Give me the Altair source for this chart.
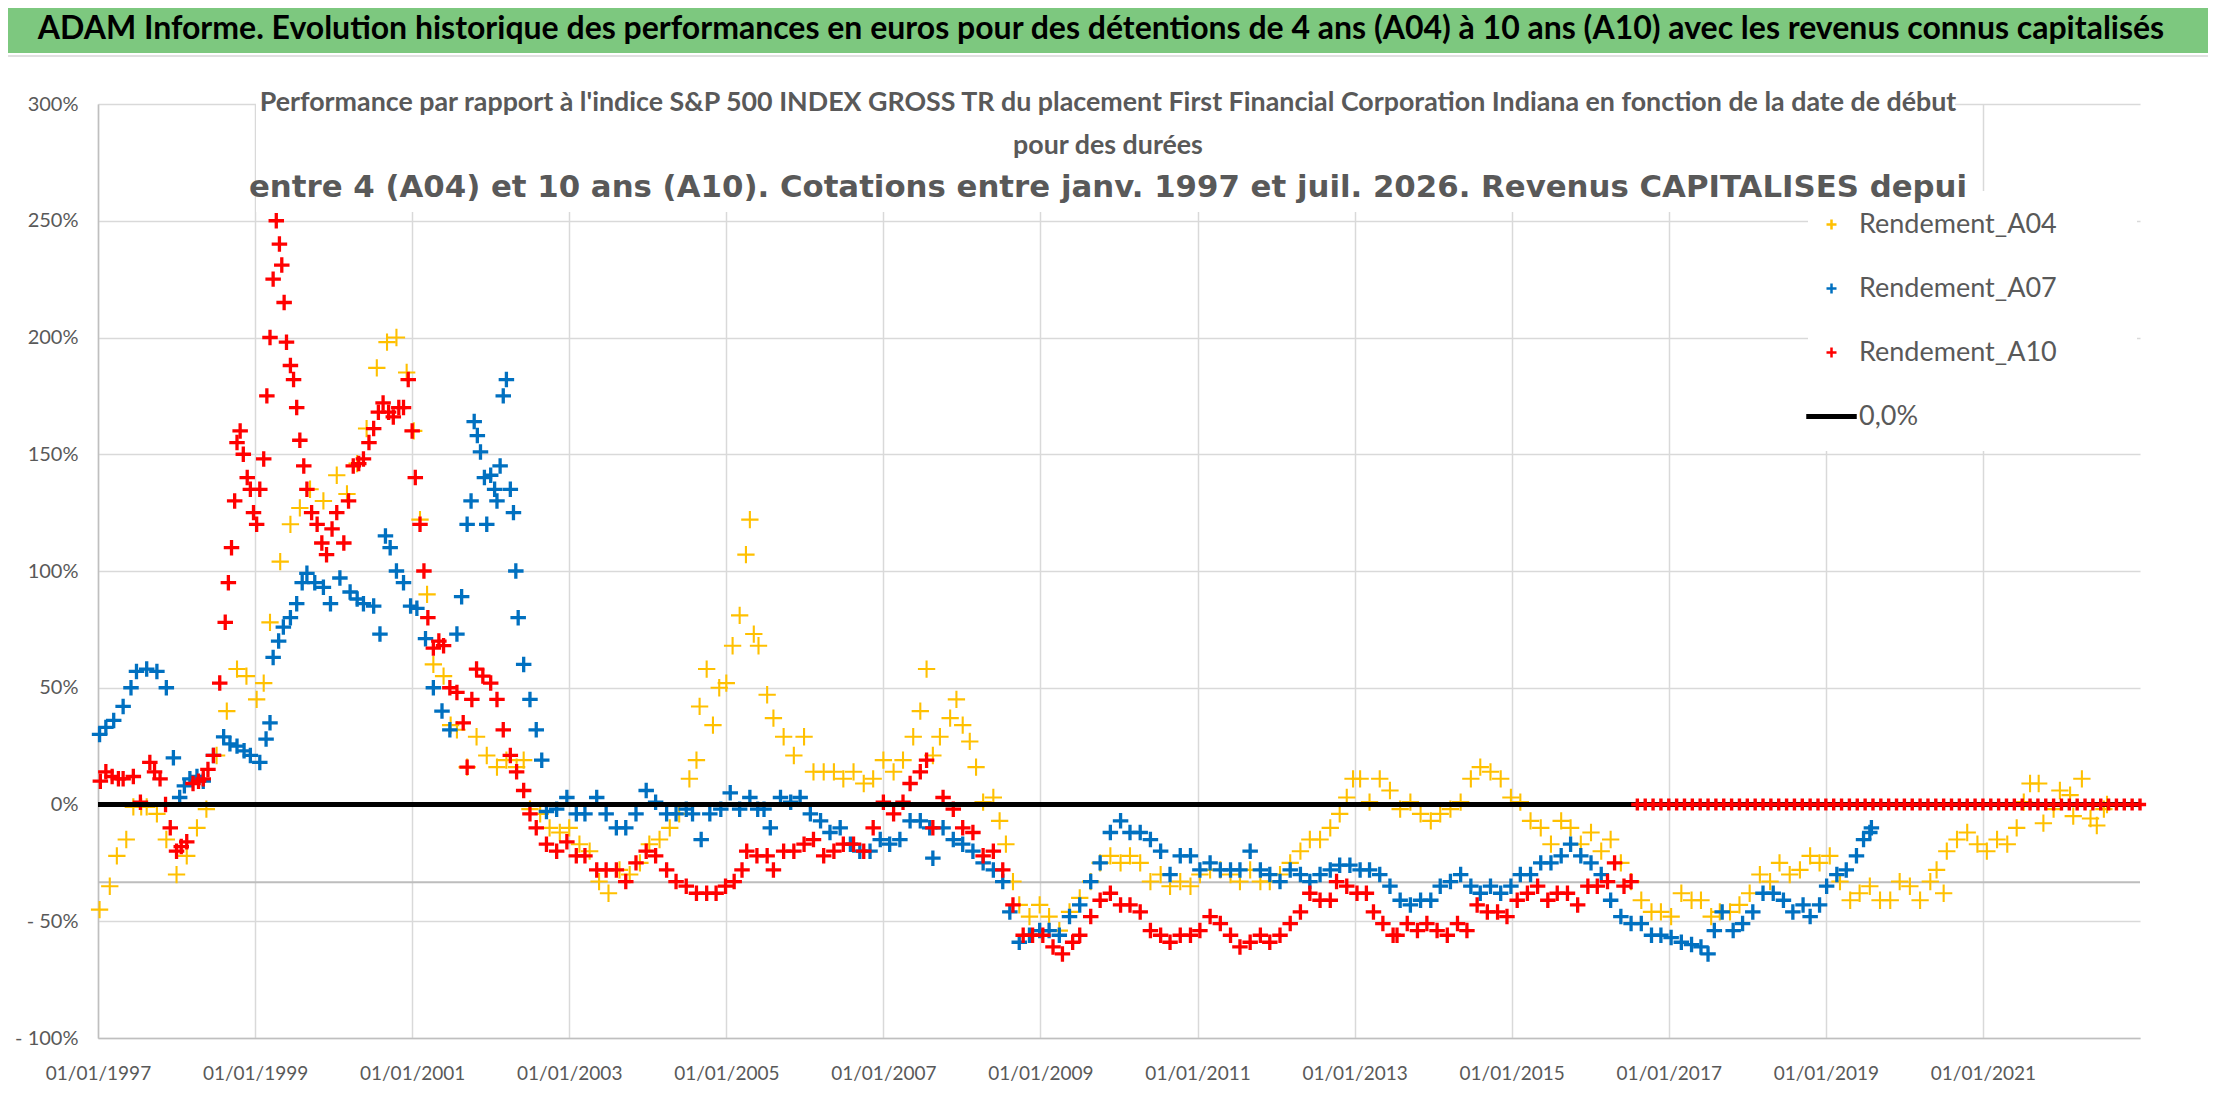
import altair as alt
import pandas as pd

# ---------------- data ----------------
series_names = ["Rendement_A04", "Rendement_A07", "Rendement_A10", "0,0%"]
series_colors = ["#FFC000", "#0070C0", "#FF0000", "#000000"]

a04_t = [1997.02, 1997.15, 1997.24, 1997.36, 1997.45, 1997.55, 1997.62, 1997.75, 1997.87, 1998.00,
         1998.13, 1998.26, 1998.38, 1998.51, 1998.64, 1998.77, 1998.89, 1999.02, 1999.11, 1999.19,
         1999.32, 1999.45, 1999.57, 1999.70, 1999.87, 2000.04, 2000.17, 2000.30, 2000.42, 2000.55,
         2000.68, 2000.80, 2000.93, 2001.02, 2001.10, 2001.19, 2001.27, 2001.40, 2001.49, 2001.57,
         2001.70, 2001.82, 2001.95, 2002.08, 2002.20, 2002.33, 2002.42, 2002.50, 2002.63, 2002.75,
         2002.88, 2003.00, 2003.13, 2003.26, 2003.38, 2003.50, 2003.64, 2003.77, 2003.90, 2004.02,
         2004.15, 2004.28, 2004.40, 2004.53, 2004.62, 2004.66, 2004.75, 2004.83, 2004.91, 2005.00,
         2005.08, 2005.17, 2005.25, 2005.30, 2005.35, 2005.41, 2005.52, 2005.60, 2005.73, 2005.86,
         2005.99, 2006.11, 2006.24, 2006.37, 2006.49, 2006.62, 2006.75, 2006.87, 2007.00, 2007.13,
         2007.25, 2007.38, 2007.47, 2007.55, 2007.63, 2007.72, 2007.85, 2007.93, 2008.01, 2008.10,
         2008.18, 2008.27, 2008.40, 2008.48, 2008.56, 2008.65, 2008.73, 2008.86, 2008.99, 2009.11,
         2009.24, 2009.37, 2009.50, 2009.64, 2009.76, 2009.89, 2010.02, 2010.14, 2010.27, 2010.40,
         2010.53, 2010.65, 2010.78, 2010.91, 2011.03, 2011.16, 2011.29, 2011.42, 2011.54, 2011.67,
         2011.80, 2011.92, 2012.05, 2012.18, 2012.31, 2012.43, 2012.56, 2012.69, 2012.81, 2012.90,
         2012.98, 2013.07, 2013.19, 2013.32, 2013.45, 2013.58, 2013.71, 2013.84, 2013.97, 2014.09,
         2014.22, 2014.35, 2014.48, 2014.60, 2014.73, 2014.86, 2014.99, 2015.11, 2015.24, 2015.37,
         2015.50, 2015.63, 2015.75, 2015.88, 2016.01, 2016.14, 2016.26, 2016.39, 2016.52, 2016.65,
         2016.78, 2016.90, 2017.03, 2017.16, 2017.29, 2017.41, 2017.54, 2017.65, 2017.78, 2017.90,
         2018.03, 2018.16, 2018.29, 2018.41, 2018.54, 2018.67, 2018.80, 2018.92, 2019.05, 2019.18,
         2019.31, 2019.43, 2019.56, 2019.69, 2019.82, 2019.94, 2020.07, 2020.20, 2020.33, 2020.41,
         2020.50, 2020.54, 2020.67, 2020.80, 2020.93, 2021.05, 2021.18, 2021.31, 2021.43, 2021.52,
         2021.60, 2021.71, 2021.77, 2021.90, 2021.98, 2022.11, 2022.15, 2022.26, 2022.37, 2022.45,
         2022.54, 2022.58]
a04_v = [-45, -35, -22, -15, -1, -1, -1, -4, -15, -30,
         -22, -10, -2, 21, 40, 58, 55, 45, 52, 78,
         104, 120, 127, 135, 130, 141, 133, 146, 161, 187,
         198, 200, 185, 160, 122, 90, 60, 55, 34, 32,
         16, 29, 21, 16, 19, 16, 19, -2, -4, -10,
         -12, -10, -17, -20, -33, -38, -28, -30, -25, -17,
         -15, -10, -4, 11, 19, 42, 58, 34, 50, 52,
         68, 81, 107, 122, 73, 68, 47, 37, 29, 21,
         29, 14, 14, 14, 11, 14, 9, 11, 19, 14,
         19, 29, 40, 58, 21, 29, 37, 45, 34, 27,
         16, 1, 3, -7, -17, -33, -43, -48, -43, -48,
         -54, -46, -40, -33, -25, -22, -25, -22, -25, -33,
         -30, -35, -33, -35, -30, -28, -28, -30, -33, -28,
         -33, -33, -30, -25, -20, -15, -15, -10, -4, 3,
         11, 11, 1, 11, 6, -2, 1, -4, -7, -4,
         -2, 1, 11, 16, 14, 11, 3, 1, -7, -10,
         -17, -7, -10, -17, -12, -20, -15, -25, -33, -41,
         -46, -46, -48, -38, -41, -41, -48, -46, -46, -43,
         -38, -30, -33, -25, -30, -28, -22, -25, -22, -33,
         -41, -38, -35, -41, -41, -33, -35, -41, -33, -28,
         -38, -20, -15, -12, -17, -20, -15, -17, -10, 1,
         9, 9, -8, -2, 6, 4, -5, 11, -6, -9,
         -2, 0]

a07_t = [1997.02, 1997.10, 1997.20, 1997.32, 1997.42, 1997.49, 1997.62, 1997.75, 1997.87, 1997.96,
         1998.04, 1998.10, 1998.17, 1998.26, 1998.34, 1998.47, 1998.60, 1998.68, 1998.77, 1998.86,
         1998.94, 1999.06, 1999.14, 1999.19, 1999.23, 1999.30, 1999.36, 1999.45, 1999.53, 1999.60,
         1999.66, 1999.76, 1999.87, 1999.96, 2000.08, 2000.21, 2000.30, 2000.38, 2000.51, 2000.59,
         2000.66, 2000.72, 2000.80, 2000.89, 2000.98, 2001.06, 2001.17, 2001.27, 2001.38, 2001.48,
         2001.57, 2001.63, 2001.70, 2001.75, 2001.79, 2001.83, 2001.87, 2001.92, 2001.95, 2002.00,
         2002.05, 2002.08, 2002.12, 2002.16, 2002.20, 2002.25, 2002.29, 2002.32, 2002.35, 2002.42,
         2002.50, 2002.58, 2002.65, 2002.71, 2002.84, 2002.97, 2003.09, 2003.20, 2003.35, 2003.47,
         2003.60, 2003.72, 2003.85, 2003.98, 2004.10, 2004.24, 2004.36, 2004.49, 2004.57, 2004.68,
         2004.79, 2004.93, 2005.05, 2005.17, 2005.30, 2005.40, 2005.48, 2005.56, 2005.69, 2005.82,
         2005.94, 2006.07, 2006.20, 2006.32, 2006.45, 2006.58, 2006.70, 2006.83, 2006.96, 2007.08,
         2007.21, 2007.34, 2007.47, 2007.59, 2007.63, 2007.76, 2007.89, 2008.01, 2008.14, 2008.27,
         2008.40, 2008.52, 2008.61, 2008.73, 2008.86, 2008.99, 2009.11, 2009.24, 2009.37, 2009.50,
         2009.64, 2009.76, 2009.89, 2010.02, 2010.14, 2010.27, 2010.40, 2010.53, 2010.65, 2010.78,
         2010.91, 2011.03, 2011.16, 2011.29, 2011.42, 2011.54, 2011.67, 2011.80, 2011.92, 2012.05,
         2012.18, 2012.31, 2012.43, 2012.56, 2012.69, 2012.81, 2012.94, 2013.07, 2013.19, 2013.32,
         2013.45, 2013.58, 2013.71, 2013.84, 2013.97, 2014.09, 2014.22, 2014.35, 2014.48, 2014.60,
         2014.73, 2014.86, 2014.99, 2015.11, 2015.24, 2015.37, 2015.50, 2015.63, 2015.75, 2015.88,
         2016.01, 2016.14, 2016.26, 2016.39, 2016.52, 2016.65, 2016.78, 2016.90, 2017.03, 2017.16,
         2017.29, 2017.41, 2017.50, 2017.58, 2017.68, 2017.82, 2017.94, 2018.07, 2018.20, 2018.33,
         2018.46, 2018.58, 2018.71, 2018.80, 2018.92, 2019.01, 2019.14, 2019.26, 2019.39, 2019.48,
         2019.56, 2019.58]
a07_v = [30, 33, 36, 42, 50, 57, 58, 57, 50, 20,
         3, 8, 11, 12, 10, 21, 29, 26, 25, 23,
         21, 18, 28, 35, 63, 70, 76, 80, 86, 95,
         99, 95, 93, 86, 97, 91, 88, 86, 85, 73,
         115, 110, 100, 95, 85, 84, 71, 50, 40, 32,
         73, 89, 120, 130, 164, 158, 151, 140, 120, 141,
         135, 130, 145, 175, 182, 135, 125, 100, 80, 60,
         45, 32, 19, -3, -2, 3, -4, -4, 3, -4,
         -10, -10, -4, 6, 1, -4, -4, -2, -4, -15,
         -4, -2, 5, -2, 3, -2, -2, -10, 3, 1,
         3, -4, -7, -12, -10, -17, -20, -20, -15, -17,
         -15, -7, -7, -10, -23, -10, -15, -17, -20, -25,
         -28, -33, -46, -59, -56, -54, -54, -56, -48, -43,
         -33, -25, -12, -7, -12, -12, -15, -20, -30, -22,
         -22, -28, -25, -28, -28, -28, -20, -28, -30, -33,
         -28, -30, -33, -30, -28, -26, -26, -28, -28, -30,
         -35, -41, -43, -41, -41, -35, -33, -30, -35, -38,
         -35, -38, -35, -30, -30, -25, -25, -22, -17, -22,
         -25, -30, -41, -48, -51, -51, -56, -56, -57, -59,
         -60, -61, -64, -54, -46, -54, -51, -46, -38, -38,
         -41, -46, -43, -48, -43, -35, -30, -28, -22, -15,
         -12, -10]

a10_t = [1997.03, 1997.10, 1997.18, 1997.26, 1997.32, 1997.45, 1997.54, 1997.66, 1997.72, 1997.79,
         1997.86, 1997.92, 1998.00, 1998.06, 1998.13, 1998.21, 1998.28, 1998.34, 1998.40, 1998.47,
         1998.55, 1998.62, 1998.66, 1998.70, 1998.74, 1998.77, 1998.81, 1998.85, 1998.90, 1998.94,
         1998.98, 1999.02, 1999.06, 1999.11, 1999.15, 1999.19, 1999.23, 1999.27, 1999.31, 1999.34,
         1999.37, 1999.40, 1999.45, 1999.49, 1999.53, 1999.57, 1999.62, 1999.66, 1999.72, 1999.79,
         1999.85, 1999.91, 1999.98, 2000.04, 2000.13, 2000.19, 2000.25, 2000.32, 2000.38, 2000.45,
         2000.51, 2000.57, 2000.63, 2000.70, 2000.76, 2000.83, 2000.89, 2000.95, 2001.00, 2001.04,
         2001.10, 2001.15, 2001.20, 2001.27, 2001.34, 2001.40, 2001.48, 2001.57, 2001.65, 2001.70,
         2001.76, 2001.82, 2001.90, 2002.00, 2002.08, 2002.16, 2002.25, 2002.33, 2002.42, 2002.50,
         2002.58, 2002.71, 2002.84, 2002.97, 2003.09, 2003.20, 2003.35, 2003.47, 2003.60, 2003.72,
         2003.85, 2003.98, 2004.10, 2004.24, 2004.36, 2004.49, 2004.62, 2004.75, 2004.87, 2004.99,
         2005.10, 2005.20, 2005.26, 2005.39, 2005.52, 2005.60, 2005.73, 2005.86, 2005.99, 2006.11,
         2006.24, 2006.37, 2006.49, 2006.62, 2006.75, 2006.87, 2007.00, 2007.13, 2007.25, 2007.34,
         2007.47, 2007.55, 2007.63, 2007.76, 2007.89, 2008.01, 2008.14, 2008.27, 2008.40, 2008.52,
         2008.65, 2008.78, 2008.90, 2009.03, 2009.16, 2009.28, 2009.41, 2009.50, 2009.64, 2009.76,
         2009.89, 2010.02, 2010.14, 2010.27, 2010.40, 2010.53, 2010.65, 2010.78, 2010.91, 2011.03,
         2011.16, 2011.29, 2011.42, 2011.54, 2011.67, 2011.80, 2011.92, 2012.05, 2012.18, 2012.31,
         2012.43, 2012.56, 2012.69, 2012.77, 2012.90, 2013.03, 2013.15, 2013.24, 2013.36, 2013.49,
         2013.54, 2013.67, 2013.80, 2013.92, 2014.05, 2014.18, 2014.31, 2014.43, 2014.56, 2014.69,
         2014.82, 2014.94, 2015.07, 2015.20, 2015.33, 2015.46, 2015.58, 2015.71, 2015.84, 2015.97,
         2016.09, 2016.22, 2016.31, 2016.43, 2016.52]
a10_v = [10, 14, 12, 11, 11, 12, 1, 18, 14, 11,
         0, -10, -20, -18, -16, 9, 10, 11, 15, 21,
         52, 78, 95, 110, 130, 155, 160, 150, 140, 135,
         125, 120, 135, 148, 175, 200, 225, 250, 240, 231,
         215, 198, 188, 182, 170, 156, 145, 135, 125, 120,
         112, 107, 118, 125, 112, 130, 145, 146, 148, 155,
         161, 168, 172, 168, 166, 170, 170, 182, 160, 140,
         120, 100, 80, 67, 70, 68, 50, 48, 35, 16,
         45, 58, 55, 52, 45, 32, 21, 14, 6, -4,
         -10, -17, -20, -16, -22, -22, -28, -28, -28, -33,
         -25, -20, -22, -28, -33, -35, -38, -38, -38, -35,
         -33, -28, -20, -22, -22, -28, -20, -20, -17, -15,
         -22, -20, -17, -17, -20, -10, 1, -4, 1, 9,
         14, 19, -10, 3, -2, -10, -12, -22, -20, -28,
         -43, -56, -56, -56, -61, -64, -59, -56, -48, -41,
         -38, -43, -43, -46, -54, -56, -59, -56, -56, -54,
         -48, -51, -56, -61, -59, -56, -59, -56, -51, -46,
         -38, -41, -41, -33, -35, -38, -38, -46, -51, -56,
         -56, -51, -54, -51, -54, -56, -51, -54, -43, -46,
         -46, -48, -41, -38, -35, -41, -38, -38, -43, -35,
         -35, -33, -25, -35, -33]

# A10 after mid-2016: values read at 0 %
a10_zero_t = [2016.6, 2016.7, 2016.8, 2016.9, 2017.0, 2017.1, 2017.2, 2017.3, 2017.4, 2017.5,
              2017.6, 2017.7, 2017.8, 2017.9, 2018.0, 2018.1, 2018.2, 2018.3, 2018.4, 2018.5,
              2018.6, 2018.7, 2018.8, 2018.9, 2019.0, 2019.1, 2019.2, 2019.3, 2019.4, 2019.5,
              2019.6, 2019.7, 2019.8, 2019.9, 2020.0, 2020.1, 2020.2, 2020.3, 2020.4, 2020.5,
              2020.6, 2020.7, 2020.8, 2020.9, 2021.0, 2021.1, 2021.2, 2021.3, 2021.4, 2021.5,
              2021.6, 2021.7, 2021.8, 2021.9, 2022.0, 2022.1, 2022.2, 2022.3, 2022.4, 2022.5,
              2022.6, 2022.7, 2022.8, 2022.9, 2023.0]
a10_zero_v = [0, 0, 0, 0, 0, 0, 0, 0, 0, 0,
              0, 0, 0, 0, 0, 0, 0, 0, 0, 0,
              0, 0, 0, 0, 0, 0, 0, 0, 0, 0,
              0, 0, 0, 0, 0, 0, 0, 0, 0, 0,
              0, 0, 0, 0, 0, 0, 0, 0, 0, 0,
              0, 0, 0, 0, 0, 0, 0, 0, 0, 0,
              0, 0, 0, 0, 0]

x_ticks = [1997, 1999, 2001, 2003, 2005, 2007, 2009, 2011, 2013, 2015, 2017, 2019, 2021]
y_ticks = [-100, -50, 0, 50, 100, 150, 200, 250, 300]
ref_level = -33.3

banner_text = ("ADAM Informe. Evolution historique des performances en euros pour des détentions "
               "de 4 ans (A04) à 10 ans (A10) avec les revenus connus capitalisés")
sub1 = ("Performance par rapport à l'indice S&P 500 INDEX GROSS TR  du placement First Financial "
        "Corporation Indiana en fonction de la date de début")
sub2 = "pour des durées"
sub3 = ("entre 4 (A04) et 10 ans (A10). Cotations entre janv. 1997 et juil. 2026. "
        "Revenus CAPITALISES depui")

assert len(a04_t) == len(a04_v)
assert len(a07_t) == len(a07_v)
assert len(a10_t) == len(a10_v)
assert len(a10_zero_t) == len(a10_zero_v)

# ---------------- tables ----------------
df04 = pd.DataFrame({"t": a04_t, "v": a04_v, "serie": series_names[0]})
df0710 = pd.concat([
    pd.DataFrame({"t": a07_t, "v": a07_v, "serie": series_names[1]}),
    pd.DataFrame({"t": a10_t, "v": a10_v, "serie": series_names[2]}),
], ignore_index=True)
df10z = pd.DataFrame({"t": a10_zero_t, "v": a10_zero_v, "serie": series_names[2]})
one = pd.DataFrame({"k": [0]})

GRAY = "#595959"
CROSS = "M-1,0H1M0,-1V1"
LINE = "M-4.8,-0.25H4.8V0.25H-4.8Z"

x_enc = alt.X("t:Q", title=None,
              scale=alt.Scale(domain=[1997, 2023], nice=False, zero=False),
              axis=alt.Axis(values=x_ticks, labelExpr="'01/01/' + datum.value",
                            labelFlush=False, labelOverlap=False, labelFontSize=19,
                            labelBaseline="middle", labelPadding=35))
y_enc = alt.Y("v:Q", title=None,
              scale=alt.Scale(domain=[-100, 300], nice=False, zero=False),
              axis=alt.Axis(values=y_ticks,
                            labelExpr="datum.value < 0 ? '- ' + abs(datum.value) + '%' : datum.value + '%'",
                            labelFontSize=20, labelPadding=20))
color_enc = alt.Color("serie:N", scale=alt.Scale(domain=series_names, range=series_colors),
                      legend=alt.Legend(title=None))
shape_enc = alt.Shape("serie:N", scale=alt.Scale(domain=series_names, range=[CROSS, CROSS, CROSS, LINE]),
                      legend=alt.Legend(title=None))


def box(x, x2, y, y2, color):
    return alt.Chart(one).mark_rect(color=color).encode(
        x=alt.value(x), x2=alt.value(x2), y=alt.value(y), y2=alt.value(y2))


def txt(s, x, y, size, font="Lato", weight="bold", color=GRAY, baseline="middle"):
    return alt.Chart(one).mark_text(text=s, font=font, fontSize=size, fontWeight=weight,
                                    color=color, align="center", baseline=baseline).encode(
        x=alt.value(x), y=alt.value(y))


banner = box(-95, 2120, -100, -51, "#7DC87F")
frame_top = box(-95, 2120, -49, -47, "#e0e0e0")
sub_box = box(158, 1857, -10, 108, "white")
leg_box = box(1710, 2039, 87, 347, "white")

ref_rule = alt.Chart(pd.DataFrame({"t": [1997], "t2": [2023], "v": [ref_level]})).mark_rule(
    color="#bdbdbd", strokeWidth=2).encode(x=x_enc, x2="t2:Q", y=y_enc)

pts04 = alt.Chart(df04).mark_point(filled=False, size=300, strokeWidth=2.1, opacity=1).encode(
    x=x_enc, y=y_enc, color=color_enc, shape=shape_enc)
pts0710 = alt.Chart(df0710).mark_point(filled=False, size=240, strokeWidth=3.3, opacity=1).encode(
    x=x_enc, y=y_enc, color=color_enc, shape=shape_enc)

zero_rule = alt.Chart(pd.DataFrame({"t": [1997], "t2": [2023], "v": [0]})).mark_rule(
    color="black", strokeWidth=5).encode(x=x_enc, x2="t2:Q", y=y_enc)

pts10z = alt.Chart(df10z).mark_point(filled=False, size=150, strokeWidth=3.4, opacity=1).encode(
    x=x_enc, y=y_enc, color=color_enc, shape=shape_enc)

t_banner = txt(banner_text, 1003, -65, 32, color="black", baseline="alphabetic")
t_sub1 = txt(sub1, 1010, -1, 26.8)
t_sub2 = txt(sub2, 1010, 42, 26.8)
t_sub3 = txt(sub3, 1010, 84, 30.8, font="DejaVu Sans")

chart = alt.layer(
    banner, frame_top, sub_box, leg_box, ref_rule, pts04, pts0710, zero_rule, pts10z,
    t_banner, t_sub1, t_sub2, t_sub3
).properties(
    width=2042, height=934,
    padding={"left": 90, "top": 96, "right": 68, "bottom": 56},
    autosize=alt.AutoSizeParams(type="none"),
).configure_view(
    stroke=None
).configure_axis(
    grid=True, gridColor="#d9d9d9", gridWidth=1.5,
    domainColor="#bfbfbf", domainWidth=1.5,
    ticks=False, tickSize=0,
    labelFont="Lato", labelColor=GRAY,
).configure_legend(
    orient="none", legendX=1720, legendY=107, direction="vertical",
    labelFont="Lato", labelFontSize=27, labelColor=GRAY, labelLimit=500,
    symbolSize=100, symbolStrokeWidth=2.5, labelOffset=14, rowPadding=36, padding=0,
)

chart.save("out.html", embed_options={"renderer": "svg", "actions": False})
